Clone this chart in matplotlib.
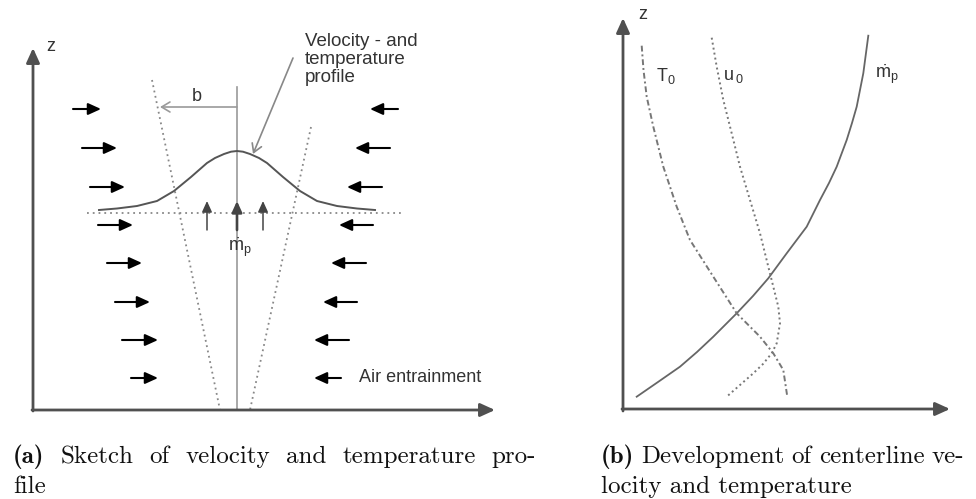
import matplotlib
matplotlib.use("Agg")
import matplotlib.pyplot as plt

plt.rcParams["mathtext.fontset"] = "custom"
plt.rcParams["mathtext.rm"] = "Liberation Sans"
plt.rcParams["mathtext.it"] = "Liberation Sans"
plt.rcParams["mathtext.default"] = "rm"

SANS = "Liberation Sans"
LABEL_FS = 13

# ---------------- panel (a): plume sketch ----------------
# entrainment arrows entering from the left (tail x, tip x, height)
left_rows_y = [109, 148, 187, 225, 263, 302, 340, 378]
left_tail_x = [73, 82, 90, 98, 107, 115, 122, 131]
left_tip_x = [101, 117, 125, 133, 142, 150, 158, 158]
# entrainment arrows entering from the right
right_tail_x = [398, 390, 382, 373, 366, 357, 349, 341]
right_tip_x = [370, 355, 347, 339, 331, 323, 314, 314]

# plume edges (dotted) and plume axis
edge_left = [(152, 80), (220, 410)]
edge_right = [(311, 127), (250, 410)]
axis_x = 237
axis_top = 87

# velocity / temperature profile across the plume
profile_dx = [-138, -120, -100, -80, -63, -46, -38, -30, -22, -13, -6, 0,
              6, 13, 22, 30, 38, 46, 63, 80, 100, 120, 138]
profile_y = [210, 208.5, 206, 201, 191, 177, 170, 163, 158, 154, 151.7, 151,
             151.7, 154, 158, 163, 170, 177, 191, 201, 206, 208.5, 210]
profile_base_y = 213

# upward mass-flux arrows at the source level
up_x = [207, 237, 263]
up_lw = [1.1, 1.9, 1.1]

# ---------------- panel (b): centerline development ----------------
mp_x = [636.7, 658, 680, 697, 713.3, 736.7, 753, 768.3, 786.7, 806.7, 820,
        829, 836.7, 846.7, 852, 856.7, 863.3, 868.3]
mp_z = [396.7, 382, 366.7, 352, 336.7, 313.3, 296, 278.3, 253.3, 226.7, 200,
        183, 166.7, 140, 123, 106.7, 73.3, 35.7]
T0_x = [641.7, 643.5, 646.7, 653.3, 663.3, 676.7, 690, 713.3, 736.7, 760, 773.3, 783.3, 787.3]
T0_z = [45.7, 70, 96.7, 126.7, 166.7, 206.7, 240, 276.7, 313.3, 336.7, 353.3, 370, 396.7]
u0_x = [711.7, 716.7, 723.3, 731.7, 740, 750, 760, 768.3, 773.3, 778.3, 780,
        776.7, 771.7, 763, 753.3, 740, 726.7]
u0_z = [37.7, 66.7, 100, 133.3, 166.7, 200, 233.3, 266.7, 286.7, 306.7, 323.3,
        343.3, 353.3, 364, 373.3, 385, 396.7]

# captions: first line is set justified, second line ragged
caption_a_words = ["(a)", "Sketch", "of", "velocity", "and", "temperature", "pro-"]
caption_a_line2 = "file"
caption_b_words = ["(b)", "Development", "of", "centerline", "ve-"]
caption_b_line2 = "locity and temperature"

W, H = 976, 499
fig = plt.figure(figsize=(W / 100, H / 100), dpi=100)
ax = fig.add_axes([0, 0, 1, 1])
ax.set_xlim(0, W)
ax.set_ylim(H, 0)
ax.axis("off")


def arrow(tail, tip, color="black", lw=1.5, style="-|>,head_length=0.55,head_width=0.25", ms=14):
    ax.annotate("", xy=tip, xytext=tail,
                arrowprops=dict(arrowstyle=style, color=color, lw=lw,
                                mutation_scale=ms, shrinkA=0, shrinkB=0))


# coordinate axes of both panels
axis_col = "#505050"
arrow((33, 411), (33, 48), color=axis_col, lw=2.0, ms=16)
arrow((32, 410), (495, 410), color=axis_col, lw=2.0, ms=16)
arrow((623, 411), (623, 18), color=axis_col, lw=2.0, ms=16)
arrow((622, 409), (950, 409), color=axis_col, lw=2.0, ms=16)
ax.text(51, 46, "z", family=SANS, fontsize=LABEL_FS, color="#333", ha="center", va="center")
ax.text(643, 14, "z", family=SANS, fontsize=LABEL_FS, color="#333", ha="center", va="center")

# plume geometry
ax.plot([axis_x, axis_x], [axis_top, 410], color="#9a9a9a", lw=1.2)
ax.plot(*zip(*edge_left), color="#888", lw=1.3, ls=(0, (1, 2)))
ax.plot(*zip(*edge_right), color="#888", lw=1.3, ls=(0, (1, 2)))
ax.plot([87, 403], [profile_base_y, profile_base_y], color="#888", lw=1.3, ls=(0, (1, 2.2)))
ax.plot([axis_x + d for d in profile_dx], profile_y, color="#555", lw=1.4)

# half-width b
arrow((axis_x, 107), (160, 107), color="#9a9a9a", lw=1.2, style="->,head_length=0.5,head_width=0.3", ms=12)
ax.text(197, 96, "b", family=SANS, fontsize=LABEL_FS, color="#333", ha="center", va="center")

# label pointing at the profile
arrow((293, 58), (253, 154), color="#888", lw=1.2, style="->,head_length=0.5,head_width=0.3", ms=12)
ax.text(305, 33, "Velocity - and\ntemperature\nprofile", family=SANS, fontsize=13.5,
        color="#333", ha="left", va="top", linespacing=1.08)

# source mass flux
for x, lw in zip(up_x, up_lw):
    arrow((x, 230), (x, 201), color="#444", lw=lw, ms=12)
ax.text(240, 247, r"$\dot{m}_{p}$", fontsize=LABEL_FS, color="#333", ha="center", va="center")

# entrainment arrows
for y, x0, x1 in zip(left_rows_y, left_tail_x, left_tip_x):
    arrow((x0, y), (x1, y))
for y, x0, x1 in zip(left_rows_y, right_tail_x, right_tip_x):
    arrow((x0, y), (x1, y))
ax.text(359, 378, "Air entrainment", family=SANS, fontsize=LABEL_FS, color="#333", ha="left", va="center")

# centerline quantities
ax.plot(mp_x, mp_z, color="#666", lw=1.3)
ax.plot(T0_x, T0_z, color="#777", lw=1.4, ls=(0, (3, 1.5, 1, 1.5)))
ax.plot(u0_x, u0_z, color="#777", lw=1.4, ls=(0, (1, 1.6)))
ax.text(656, 76, r"$T_{0}$", fontsize=LABEL_FS, color="#333", ha="left", va="center")
ax.text(723, 76, r"$u\,_{0}$", fontsize=LABEL_FS, color="#333", ha="left", va="center")
ax.text(875, 74, r"$\dot{m}_{p}$", fontsize=LABEL_FS, color="#333", ha="left", va="center")

# sub-figure captions
CAP_FS = 18
renderer = fig.canvas.get_renderer()


def justified(words, x0, x1, y):
    texts = []
    for i, w in enumerate(words):
        fam = "cmb10" if i == 0 else "cmr10"
        texts.append(ax.text(0, y, w, family=fam, fontsize=CAP_FS, color="#111",
                             ha="left", va="baseline"))
    widths = [t.get_window_extent(renderer).width for t in texts]
    gap = (x1 - x0 - sum(widths)) / (len(words) - 1)
    x = x0
    for t, wd in zip(texts, widths):
        t.set_x(x)
        x += wd + gap


justified(caption_a_words, 13, 536, 463)
justified(caption_b_words, 601, 964, 463)
ax.text(13, 493, caption_a_line2, family="cmr10", fontsize=CAP_FS, color="#111", ha="left", va="baseline")
ax.text(601, 493, caption_b_line2, family="cmr10", fontsize=CAP_FS, color="#111", ha="left", va="baseline")

fig.savefig("out.png", dpi=100)
